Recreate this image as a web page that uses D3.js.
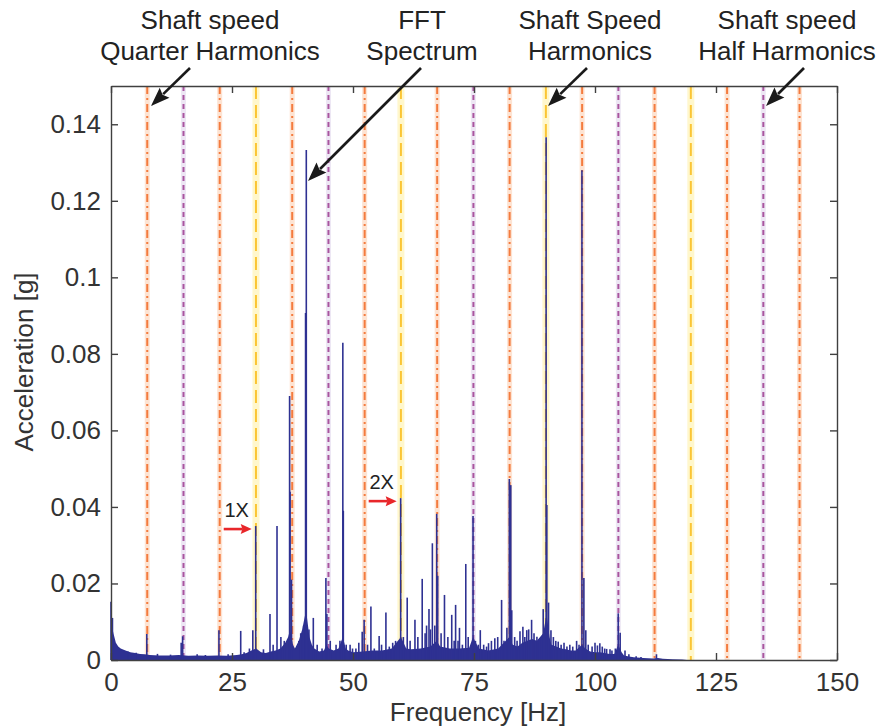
<!DOCTYPE html>
<html>
<head>
<meta charset="utf-8">
<title>FFT Spectrum</title>
<script src="https://d3js.org/d3.v7.min.js"></script>
<style>
  body { margin: 0; background: #fff; }
  text { font-family: "Liberation Sans", Arial, sans-serif; }
  .axis path, .axis line { stroke: #404040; stroke-width: 1.4; }
  .axis text { fill: #333; font-size: 26px; }
</style>
</head>
<body>
<svg id="chart" width="881" height="728"></svg>
<script>
// shaft speed lines (Hz)
var shaftHarmonics = [29.95, 59.9, 89.85, 119.8];
var halfHarmonics = [14.98, 44.93, 74.88, 104.83, 134.78];
var quarterHarmonics = [7.49, 22.46, 37.44, 52.41, 67.39, 82.36, 97.34, 112.31, 127.29, 142.26];

// noise floor of the spectrum
var floorFreq = [0, 0.2, 0.5, 1, 1.5, 2, 3, 4, 5, 6, 7, 8, 10, 12, 14, 16, 18, 20, 22, 24, 26, 27, 28, 29, 30, 31,
  32, 33, 34, 35, 36, 36.6, 37, 37.6, 38, 38.8, 39.5, 40.3, 41, 41.5, 42, 43, 44, 44.5, 45, 46, 47, 47.9, 48.5,
  49, 50, 52, 54, 56, 58, 59.9, 61, 62, 64, 66, 67.3, 68, 70, 72, 74, 74.8, 76, 78, 80, 82.3, 83, 84, 85, 86,
  87, 88, 89.3, 90, 90.6, 91, 92, 93, 94, 95, 96, 97.3, 98, 99, 100, 101, 102, 103, 104, 104.8, 105.5, 106,
  107, 108, 110, 112, 113, 114, 116, 118, 119, 150];
var floorAmp = [0.0152, 0.009, 0.007, 0.0045, 0.0035, 0.003, 0.0025, 0.002, 0.0018, 0.0016, 0.0015, 0.0013,
  0.0012, 0.0012, 0.0013, 0.0011, 0.0012, 0.0011, 0.0012, 0.0011, 0.0013, 0.0015, 0.0018, 0.0025, 0.003, 0.002,
  0.0018, 0.0022, 0.0025, 0.003, 0.0045, 0.006, 0.008, 0.004, 0.003, 0.005, 0.008, 0.013, 0.006, 0.004, 0.003,
  0.0022, 0.0025, 0.004, 0.003, 0.0025, 0.003, 0.006, 0.003, 0.0025, 0.002, 0.0022, 0.0025, 0.0025, 0.003,
  0.006, 0.003, 0.0028, 0.003, 0.0035, 0.005, 0.0035, 0.003, 0.003, 0.0032, 0.006, 0.003, 0.0025, 0.003, 0.006,
  0.004, 0.0035, 0.0045, 0.005, 0.0055, 0.005, 0.007, 0.012, 0.006, 0.004, 0.0035, 0.003, 0.0028, 0.0025,
  0.0025, 0.004, 0.003, 0.0022, 0.002, 0.002, 0.0018, 0.0016, 0.0016, 0.004, 0.002, 0.0012, 0.0009, 0.0007,
  0.0005, 0.0004, 0.0005, 0.0003, 0.0002, 0.0001, 0, 0];

// spectral lines
var peakFreq = [0, 0.3, 3.5, 5.2, 7.4, 9.6, 12.3, 14.5, 14.8, 17.8, 19.5, 22.3, 24.2, 26.8, 27.5, 28.6, 29.3,
  29.9, 31.5, 32.85, 33.5, 34.3, 35.1, 35.8, 36.9, 37.0, 37.3, 38.8, 39.2, 39.8, 40.2, 40.35, 40.9, 41.8, 42.6,
  43.6, 44.4, 44.6, 45.3, 46.5, 47.3, 47.9, 48.0, 48.6, 49.4, 49.9, 50.6, 51.2, 51.9, 52.3, 53.0, 53.7, 54.4,
  55.4, 55.9, 56.8, 57.5, 58.2, 58.8, 59.85, 60.4, 61.2, 61.8, 62.8, 63.4, 64.3, 64.9, 65.2, 65.7, 66.0, 66.4,
  66.9, 67.3, 67.5, 68.2, 68.9, 69.6, 70.4, 70.9, 71.2, 71.7, 72.0, 72.6, 73.3, 73.8, 74.8, 75.3, 75.9, 76.3,
  77.0, 77.6, 78.0, 78.6, 79.3, 79.9, 80.7, 81.2, 81.8, 82.3, 82.6, 82.8, 83.4, 83.9, 84.5, 85.1, 85.5, 85.9,
  86.3, 86.9, 87.4, 88.0, 88.5, 88.9, 89.3, 89.9, 90.05, 90.4, 90.9, 91.4, 91.9, 92.4, 93.0, 93.6, 94.2, 94.8,
  95.4, 96.2, 96.7, 97.3, 97.7, 98.1, 98.6, 99.4, 100.0, 100.5, 101.0, 101.5, 102.0, 102.4, 103.1, 103.5,
  104.2, 104.8, 105.2, 106.2, 107.0, 108.5, 109.5, 112.7];
var peakAmp = [0.0152, 0.011, 0.0022, 0.0019, 0.0068, 0.0016, 0.0014, 0.0045, 0.0062, 0.0015, 0.0013, 0.0078,
  0.0015, 0.0076, 0.002, 0.003, 0.0078, 0.035, 0.0028, 0.012, 0.004, 0.035, 0.006, 0.005, 0.069, 0.044, 0.021,
  0.005, 0.007, 0.009, 0.0907, 0.1333, 0.008, 0.011, 0.004, 0.003, 0.0214, 0.012, 0.005, 0.004, 0.005, 0.0829,
  0.039, 0.004, 0.004, 0.003, 0.003, 0.0045, 0.0074, 0.0105, 0.004, 0.014, 0.003, 0.0063, 0.004, 0.0124, 0.0035,
  0.0045, 0.005, 0.0423, 0.006, 0.0163, 0.005, 0.0105, 0.006, 0.0212, 0.007, 0.009, 0.0133, 0.008, 0.0305, 0.009,
  0.0382, 0.022, 0.007, 0.017, 0.006, 0.0118, 0.005, 0.0144, 0.005, 0.0084, 0.004, 0.0251, 0.006, 0.0376, 0.005,
  0.004, 0.0078, 0.004, 0.0035, 0.0044, 0.005, 0.0057, 0.006, 0.0157, 0.005, 0.0084, 0.0473, 0.0457, 0.013,
  0.006, 0.005, 0.0075, 0.0087, 0.006, 0.0078, 0.008, 0.0105, 0.007, 0.0061, 0.0055, 0.006, 0.0133, 0.1366,
  0.0405, 0.015, 0.0078, 0.006, 0.005, 0.0048, 0.004, 0.0045, 0.0035, 0.004, 0.0035, 0.005, 0.004, 0.128,
  0.0214, 0.0078, 0.004, 0.0035, 0.0045, 0.0038, 0.0044, 0.0035, 0.003, 0.0029, 0.0028, 0.0025, 0.003, 0.0122,
  0.0071, 0.0025, 0.0015, 0.001, 0.0008, 0.0015];

var xTicks = [0, 25, 50, 75, 100, 125, 150];
var yTicks = [0, 0.02, 0.04, 0.06, 0.08, 0.1, 0.12, 0.14];
var yTickLabels = ["0", "0.02", "0.04", "0.06", "0.08", "0.1", "0.12", "0.14"];

var svg = d3.select("#chart");
var plotLeft = 111, plotRight = 837, plotTop = 86, plotBottom = 660;

var x = d3.scaleLinear().domain([0, 150]).range([plotLeft, plotRight]);
var y = d3.scaleLinear().domain([0, 0.15]).range([plotBottom, plotTop]);

// reference lines: pale stripe + dashed line
function refLines(freqs, stripe, stripeW, color, dash) {
  var g = svg.append("g");
  g.selectAll(".stripe").data(freqs).enter().append("line")
    .attr("x1", function(d) { return x(d); }).attr("x2", function(d) { return x(d); })
    .attr("y1", plotTop).attr("y2", plotBottom)
    .attr("stroke", stripe).attr("stroke-width", stripeW);
  g.selectAll(".dash").data(freqs).enter().append("line")
    .attr("x1", function(d) { return x(d); }).attr("x2", function(d) { return x(d); })
    .attr("y1", plotTop).attr("y2", plotBottom)
    .attr("stroke", color).attr("stroke-width", 2)
    .attr("stroke-dasharray", dash);
}
refLines(quarterHarmonics, "#fde3d2", 5, "#f47b3e", "8,4,2,4");
refLines(halfHarmonics, "#ede7f4", 5, "#a9559f", "5,4");
refLines(shaftHarmonics, "#fff7cc", 7, "#fbc534", "13,6");

// spectrum
var floorData = floorFreq.map(function(f, i) { return [f, floorAmp[i]]; });
svg.append("path")
  .datum(floorData)
  .attr("fill", "#2e3192")
  .attr("d", d3.area()
    .x(function(d) { return x(d[0]); })
    .y0(y(0))
    .y1(function(d) { return y(d[1]); }));

var peaks = peakFreq.map(function(f, i) { return [f, peakAmp[i]]; });
svg.append("g").selectAll("line").data(peaks).enter().append("line")
  .attr("x1", function(d) { return x(d[0]); }).attr("x2", function(d) { return x(d[0]); })
  .attr("y1", y(0)).attr("y2", function(d) { return y(d[1]); })
  .attr("stroke", "#2e3192").attr("stroke-width", 1.6);

// axes box, ticks pointing inward
svg.append("g").attr("class", "axis")
  .attr("transform", "translate(0," + plotBottom + ")")
  .call(d3.axisBottom(x).tickValues(xTicks).tickFormat(d3.format("d"))
    .tickSizeInner(-7).tickSizeOuter(0).tickPadding(13));
svg.append("g").attr("class", "axis")
  .attr("transform", "translate(0," + plotTop + ")")
  .call(d3.axisTop(x).tickValues(xTicks).tickFormat("").tickSizeInner(-7).tickSizeOuter(0));
svg.append("g").attr("class", "axis")
  .attr("transform", "translate(" + plotLeft + ",0)")
  .call(d3.axisLeft(y).tickValues(yTicks).tickFormat(function(d, i) { return yTickLabels[i]; })
    .tickSizeInner(-7).tickSizeOuter(0).tickPadding(10));
svg.append("g").attr("class", "axis")
  .attr("transform", "translate(" + plotRight + ",0)")
  .call(d3.axisRight(y).tickValues(yTicks).tickFormat("").tickSizeInner(-7).tickSizeOuter(0));
svg.selectAll(".axis text").attr("font-family", null);

// axis titles
svg.append("text").attr("x", 478).attr("y", 721)
  .attr("text-anchor", "middle").attr("fill", "#333").style("font-size", "26px")
  .text("Frequency [Hz]");
svg.append("text")
  .attr("transform", "translate(33,362) rotate(-90)")
  .attr("text-anchor", "middle").attr("fill", "#333").style("font-size", "26px")
  .text("Acceleration [g]");

// arrows
function arrow(x1, y1, x2, y2, color, w, hl, hw) {
  var dx = x2 - x1, dy = y2 - y1, len = Math.sqrt(dx * dx + dy * dy);
  var ux = dx / len, uy = dy / len;
  var bx = x2 - ux * hl, by = y2 - uy * hl;
  svg.append("line").attr("x1", x1).attr("y1", y1)
    .attr("x2", bx + ux * 2).attr("y2", by + uy * 2)
    .attr("stroke", color).attr("stroke-width", w);
  svg.append("path")
    .attr("d", "M" + x2 + "," + y2 +
      "L" + (bx - uy * hw / 2) + "," + (by + ux * hw / 2) +
      "L" + (bx + ux * hl * 0.15) + "," + (by + uy * hl * 0.15) +
      "L" + (bx + uy * hw / 2) + "," + (by - ux * hw / 2) + "Z")
    .attr("fill", color);
}

// callouts above the plot
var callouts = [
  { lines: ["Shaft speed", "Quarter Harmonics"], cx: 210, from: [190, 68], to: [151, 106] },
  { lines: ["FFT", "Spectrum"], cx: 422, from: [421, 68], to: [308, 181] },
  { lines: ["Shaft Speed", "Harmonics"], cx: 590, from: [587, 68], to: [548, 106] },
  { lines: ["Shaft speed", "Half Harmonics"], cx: 787, from: [804, 68], to: [766, 106] }
];
callouts.forEach(function(c) {
  c.lines.forEach(function(t, i) {
    svg.append("text").attr("x", c.cx).attr("y", 29 + i * 31)
      .attr("text-anchor", "middle").attr("fill", "#222").style("font-size", "26px")
      .text(t);
  });
  arrow(c.from[0], c.from[1], c.to[0], c.to[1], "#1a1a1a", 2.6, 19, 14);
});

// 1X / 2X markers
var orderLabels = ["1X", "2X"];
var orderFreq = [29.9, 59.85];
var orderAmp = [0.035, 0.0423];
orderFreq.forEach(function(f, i) {
  var tx = x(f) - 4, ty = y(orderAmp[i]) + 3;
  arrow(tx - 28, ty, tx, ty, "#e8262a", 2.6, 11, 10);
  svg.append("text").attr("x", tx - 15).attr("y", ty - 12)
    .attr("text-anchor", "middle").attr("fill", "#222").style("font-size", "20px")
    .text(orderLabels[i]);
});
</script>
</body>
</html>
